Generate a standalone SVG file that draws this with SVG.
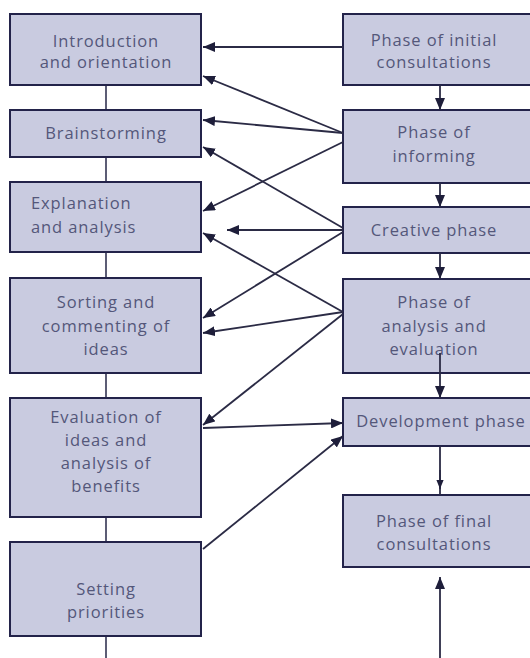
<svg xmlns="http://www.w3.org/2000/svg" width="530" height="658" viewBox="0 0 530 658">
  <style>
    .box { fill: #c9cbe0; stroke: #23234a; stroke-width: 2; }
    .lbl { font-family: "Open Sans", "Noto Sans", sans-serif; font-size: 16.5px; letter-spacing: 0.9px; fill: #54577a; text-anchor: middle; }
    .lbl-l { text-anchor: start; }
    .spine { stroke: #5c5d75; stroke-width: 2; fill: none; }
    .link { stroke: #2b2b45; stroke-width: 1.8; fill: none; marker-end: url(#head); }
    .plain { stroke: #2b2b45; stroke-width: 1.8; fill: none; }
  </style>
  <defs>
    <marker id="head" viewBox="0 0 12 10" refX="12" refY="5" markerWidth="12" markerHeight="10" markerUnits="userSpaceOnUse" orient="auto">
      <path d="M0,0 L12,5 L0,10 z" fill="#1e1e3a"/>
    </marker>
    <marker id="head-s" viewBox="0 0 10 8" refX="10" refY="4" markerWidth="9" markerHeight="8" markerUnits="userSpaceOnUse" orient="auto">
      <path d="M0,0 L10,4 L0,8 z" fill="#1e1e3a"/>
    </marker>
  </defs>

  <!-- left column spine -->
  <g id="spine">
    <line class="spine" x1="106" y1="85" x2="106" y2="110"/>
    <line class="spine" x1="106" y1="157" x2="106" y2="182"/>
    <line class="spine" x1="106" y1="252" x2="106" y2="278"/>
    <line class="spine" x1="106" y1="373" x2="106" y2="398"/>
    <line class="spine" x1="106" y1="517" x2="106" y2="542"/>
    <line class="spine" x1="106" y1="636" x2="106" y2="658"/>
  </g>

  <!-- left column: activities -->
  <g id="introduction">
    <rect class="box" x="10" y="14" width="191" height="71"/>
    <text class="lbl" x="106" y="47">Introduction</text>
    <text class="lbl" x="106" y="68">and orientation</text>
  </g>
  <g id="brainstorming">
    <rect class="box" x="10" y="110" width="191" height="47"/>
    <text class="lbl" x="106" y="139">Brainstorming</text>
  </g>
  <g id="explanation">
    <rect class="box" x="10" y="182" width="191" height="70"/>
    <text class="lbl lbl-l" x="31" y="209">Explanation</text>
    <text class="lbl lbl-l" x="31" y="233">and analysis</text>
  </g>
  <g id="sorting">
    <rect class="box" x="10" y="278" width="191" height="95"/>
    <text class="lbl" x="106" y="308">Sorting and</text>
    <text class="lbl" x="106" y="332">commenting of</text>
    <text class="lbl" x="106" y="355">ideas</text>
  </g>
  <g id="evaluation">
    <rect class="box" x="10" y="398" width="191" height="119"/>
    <text class="lbl" x="106" y="423">Evaluation of</text>
    <text class="lbl" x="106" y="446">ideas and</text>
    <text class="lbl" x="106" y="469">analysis of</text>
    <text class="lbl" x="106" y="492">benefits</text>
  </g>
  <g id="priorities">
    <rect class="box" x="10" y="542" width="191" height="94"/>
    <text class="lbl" x="106" y="595">Setting</text>
    <text class="lbl" x="106" y="618">priorities</text>
  </g>

  <!-- right column: phases -->
  <g id="initial-consultations">
    <rect class="box" x="343" y="14" width="192" height="71"/>
    <text class="lbl" x="434" y="46">Phase of initial</text>
    <text class="lbl" x="434" y="68">consultations</text>
  </g>
  <g id="informing">
    <rect class="box" x="343" y="110" width="192" height="73"/>
    <text class="lbl" x="434" y="138">Phase of</text>
    <text class="lbl" x="434" y="162">informing</text>
  </g>
  <g id="creative">
    <rect class="box" x="343" y="207" width="192" height="46"/>
    <text class="lbl" x="434" y="236">Creative phase</text>
  </g>
  <g id="analysis-evaluation">
    <rect class="box" x="343" y="279" width="192" height="94"/>
    <text class="lbl" x="434" y="308">Phase of</text>
    <text class="lbl" x="434" y="332">analysis and</text>
    <text class="lbl" x="434" y="355">evaluation</text>
  </g>
  <g id="development">
    <rect class="box" x="343" y="398" width="192" height="48"/>
    <text class="lbl" x="441" y="427">Development phase</text>
  </g>
  <g id="final-consultations">
    <rect class="box" x="343" y="495" width="192" height="72"/>
    <text class="lbl" x="434" y="527">Phase of final</text>
    <text class="lbl" x="434" y="550">consultations</text>
  </g>

  <!-- connectors -->
  <g id="connectors">
    <!-- phase sequence -->
    <line class="link" x1="440" y1="85" x2="440" y2="110"/>
    <line class="link" x1="440" y1="183" x2="440" y2="207"/>
    <line class="link" x1="440" y1="253" x2="440" y2="279"/>
    <line class="link" x1="440" y1="353" x2="440" y2="398"/>
    <line class="plain" x1="440" y1="446" x2="440" y2="495"/>
    <line class="link" style="marker-end:url(#head-s)" x1="440" y1="470" x2="440" y2="489"/>
    <line class="link" x1="440" y1="658" x2="440" y2="577"/>

    <!-- phases to activities -->
    <line class="link" x1="343" y1="47" x2="203" y2="47"/>
    <line class="link" x1="343" y1="133" x2="203" y2="76"/>
    <line class="link" x1="343" y1="133" x2="203" y2="120"/>
    <line class="link" x1="343" y1="142" x2="203" y2="211"/>
    <line class="link" x1="343" y1="228" x2="203" y2="147"/>
    <line class="link" x1="343" y1="230" x2="227" y2="230"/>
    <line class="link" x1="343" y1="232" x2="203" y2="318"/>
    <line class="link" x1="343" y1="312" x2="203" y2="233"/>
    <line class="link" x1="343" y1="312" x2="203" y2="333"/>
    <line class="link" x1="343" y1="314" x2="203" y2="425"/>

    <!-- activities to development phase -->
    <line class="link" x1="203" y1="428" x2="343" y2="423"/>
    <line class="link" x1="203" y1="549" x2="343" y2="436"/>
  </g>
</svg>
